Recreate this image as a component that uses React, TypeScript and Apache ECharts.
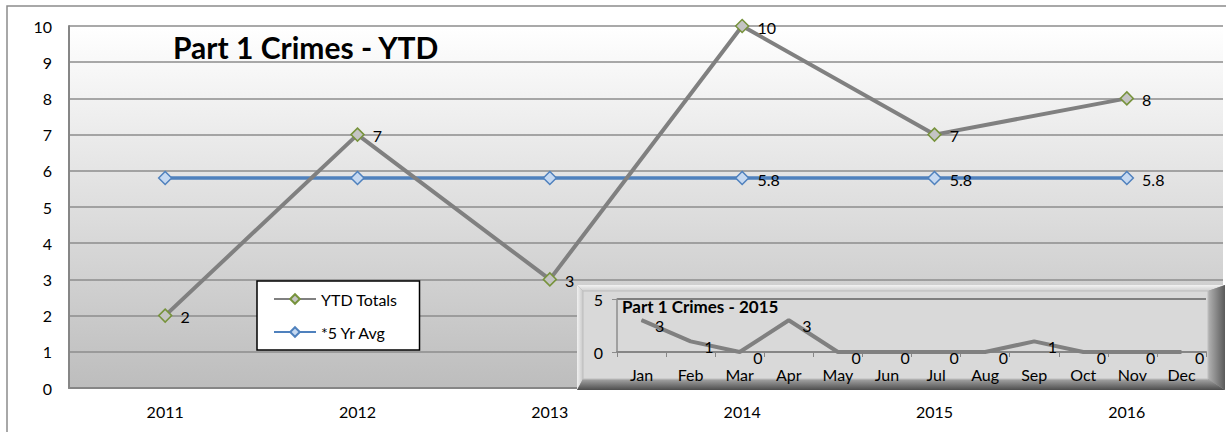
import React, { useEffect, useRef } from "react";
import * as echarts from "echarts";

const years = ["2011", "2012", "2013", "2014", "2015", "2016"];
const ytdTotals = [2, 7, 3, 10, 7, 8];
const fiveYrAvg = [5.8, 5.8, 5.8, 5.8, 5.8, 5.8];
const avgLabelShown = [false, false, false, true, true, true];
const months = ["Jan", "Feb", "Mar", "Apr", "May", "Jun", "Jul", "Aug", "Sep", "Oct", "Nov", "Dec"];
const monthly2015 = [3, 1, 0, 3, 0, 0, 0, 0, 1, 0, 0, 0];

const FONT = "Lato, 'Open Sans', sans-serif";

export default function App() {
  const mainRef = useRef<HTMLDivElement>(null);
  const insetRef = useRef<HTMLDivElement>(null);

  useEffect(() => {
    const main = echarts.init(mainRef.current!, null, { renderer: "svg" });
    const inset = echarts.init(insetRef.current!, null, { renderer: "svg" });

    main.setOption({
      animation: false,
      backgroundColor: "#ffffff",
      textStyle: { fontFamily: FONT },
      graphic: [
        {
          type: "rect",
          z: -10,
          shape: { x: 7, y: 6, width: 1240, height: 450 },
          style: { fill: "none", stroke: "#8c8c8c", lineWidth: 1.5 },
        },
        {
          type: "text",
          left: 173,
          top: 32,
          z: 10,
          style: {
            text: "Part 1 Crimes - YTD",
            fontSize: 30,
            fontWeight: "bold",
            fontFamily: FONT,
            fill: "#000",
          },
        },
      ],
      grid: {
        left: 69,
        top: 26,
        right: 3,
        bottom: 44,
        show: true,
        borderWidth: 0,
        backgroundColor: new echarts.graphic.LinearGradient(0, 0, 0, 1, [
          { offset: 0, color: "#ffffff" },
          { offset: 1, color: "#bdbdbd" },
        ]),
      },
      legend: {
        orient: "vertical",
        left: 257,
        top: 281,
        backgroundColor: "#ffffff",
        borderColor: "#000000",
        borderWidth: 1.5,
        borderRadius: 0,
        padding: [10, 22, 10, 16],
        itemWidth: 42,
        itemHeight: 12,
        itemGap: 17,
        textStyle: { fontSize: 16, color: "#000", fontFamily: FONT },
        data: ["YTD Totals", "*5 Yr Avg"],
      },
      xAxis: {
        type: "category",
        data: years,
        boundaryGap: true,
        axisLine: { show: true, lineStyle: { color: "#868686", width: 2 } },
        axisTick: { show: false },
        axisLabel: { fontSize: 16, color: "#000", margin: 15, fontFamily: FONT },
      },
      yAxis: {
        type: "value",
        min: 0,
        max: 10,
        interval: 1,
        axisLine: { show: true, lineStyle: { color: "#868686", width: 2 } },
        axisTick: { show: false },
        axisLabel: { fontSize: 16, color: "#000", margin: 17, fontFamily: FONT },
        splitLine: { show: true, lineStyle: { color: "#8c8c8c", width: 1.5 } },
      },
      series: [
        {
          name: "YTD Totals",
          type: "line",
          data: ytdTotals,
          symbol: "diamond",
          symbolSize: 13,
          lineStyle: { color: "#808080", width: 4 },
          itemStyle: { color: "#c4c4c4", borderColor: "#77933c", borderWidth: 1.5 },
          label: {
            show: true,
            position: "right",
            distance: 8,
            offset: [0, 1],
            fontSize: 16,
            color: "#000",
            fontFamily: FONT,
          },
          z: 3,
        },
        {
          name: "*5 Yr Avg",
          type: "line",
          data: fiveYrAvg.map((v, i) => ({
            value: v,
            label: { show: avgLabelShown[i] },
          })),
          symbol: "diamond",
          symbolSize: 13,
          lineStyle: { color: "#4f81bd", width: 3.5 },
          itemStyle: { color: "#c6d9f1", borderColor: "#4f81bd", borderWidth: 1.5 },
          label: {
            show: false,
            position: "right",
            distance: 8,
            offset: [0, 1],
            fontSize: 16,
            color: "#000",
            fontFamily: FONT,
          },
          z: 2,
        },
      ],
    });

    const W = 648;
    const H = 105;
    const BT = 6; // top/left bevel
    const BB = 11; // bottom bevel
    const BR = 17; // right bevel
    inset.setOption({
      animation: false,
      textStyle: { fontFamily: FONT },
      graphic: [
        {
          type: "rect",
          z: -20,
          shape: { x: 0, y: 0, width: W, height: H },
          style: { fill: "#9a9a9a" },
        },
        {
          type: "polygon",
          z: -19,
          shape: { points: [[0, 0], [W, 0], [W - BR, BT], [BT, BT]] },
          style: {
            fill: new echarts.graphic.LinearGradient(0, 0, 0, 1, [
              { offset: 0, color: "#f2f2f2" },
              { offset: 1, color: "#cfcfcf" },
            ]),
          },
        },
        {
          type: "polygon",
          z: -19,
          shape: { points: [[0, 0], [BT, BT], [BT, H - BB], [0, H]] },
          style: {
            fill: new echarts.graphic.LinearGradient(0, 0, 1, 0, [
              { offset: 0, color: "#f0f0f0" },
              { offset: 1, color: "#c8c8c8" },
            ]),
          },
        },
        {
          type: "polygon",
          z: -19,
          shape: { points: [[0, H], [BT, H - BB], [W - BR, H - BB], [W, H]] },
          style: {
            fill: new echarts.graphic.LinearGradient(0, 0, 0, 1, [
              { offset: 0, color: "#a6a6a6" },
              { offset: 1, color: "#4d4d4d" },
            ]),
          },
        },
        {
          type: "polygon",
          z: -19,
          shape: { points: [[W, 0], [W, H], [W - BR, H - BB], [W - BR, BT]] },
          style: {
            fill: new echarts.graphic.LinearGradient(0, 0, 1, 0, [
              { offset: 0, color: "#b3b3b3" },
              { offset: 1, color: "#5a5a5a" },
            ]),
          },
        },
        {
          type: "rect",
          z: -18,
          shape: { x: BT, y: BT, width: W - BT - BR, height: H - BT - BB },
          style: { fill: "#d9d9d9", stroke: "#bdbdbd", lineWidth: 1 },
        },
        {
          type: "text",
          left: 45,
          top: 13,
          z: 10,
          style: {
            text: "Part 1 Crimes - 2015",
            fontSize: 17,
            fontWeight: "bold",
            fontFamily: FONT,
            fill: "#000",
          },
        },
      ],
      grid: { left: 40, top: 14, right: 19, bottom: 38, show: false },
      xAxis: {
        type: "category",
        data: months,
        boundaryGap: true,
        axisLine: { show: true, lineStyle: { color: "#868686", width: 2 } },
        axisTick: { show: true, length: 5, lineStyle: { color: "#868686" } },
        axisLabel: { fontSize: 16, color: "#000", margin: 14, fontFamily: FONT },
      },
      yAxis: {
        type: "value",
        min: 0,
        max: 5,
        interval: 5,
        axisLine: { show: true, lineStyle: { color: "#8c8c8c", width: 1.5 } },
        axisTick: { show: true, length: 5, lineStyle: { color: "#8c8c8c" } },
        axisLabel: { fontSize: 16, color: "#000", margin: 14, fontFamily: FONT },
        splitLine: { show: true, lineStyle: { color: "#7f7f7f", width: 2 } },
      },
      series: [
        {
          name: "2015",
          type: "line",
          data: monthly2015,
          symbol: "circle",
          symbolSize: 1,
          showSymbol: true,
          itemStyle: { color: "#808080" },
          lineStyle: { color: "#808080", width: 4 },
          label: {
            show: true,
            position: "right",
            distance: 5,
            offset: [8, 5],
            fontSize: 16,
            color: "#000",
            fontFamily: FONT,
          },
        },
      ],
    });

    return () => {
      main.dispose();
      inset.dispose();
    };
  }, []);

  return (
    <div style={{ position: "fixed", left: 0, top: 0, width: 1226, height: 432, overflow: "hidden" }}>
      <div ref={mainRef} style={{ position: "absolute", left: 0, top: 0, width: 1226, height: 432 }} />
      <div ref={insetRef} style={{ position: "absolute", left: 577, top: 285, width: 648, height: 105 }} />
    </div>
  );
}
